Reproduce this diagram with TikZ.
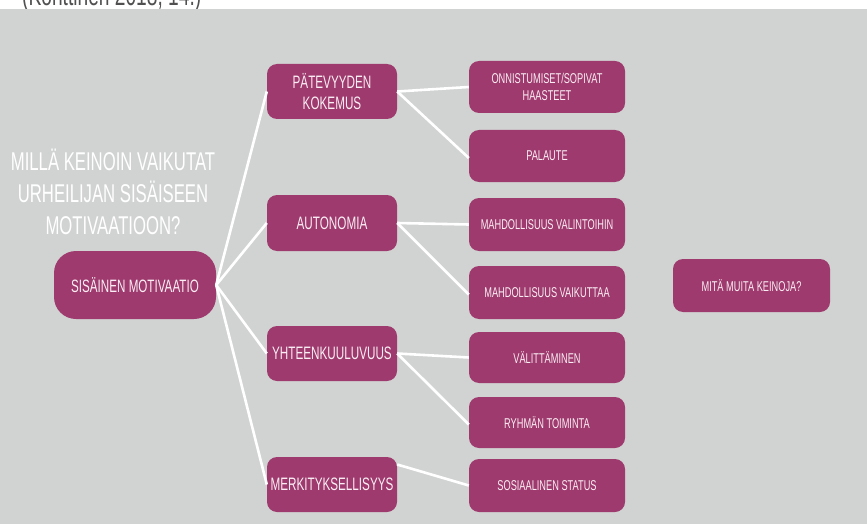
\documentclass[tikz,border=0pt]{standalone}
\usepackage{fontspec}
\setmainfont[FakeStretch=0.65]{Liberation Sans}
\definecolor{bg}{RGB}{209,211,210}
\definecolor{plum}{RGB}{158,58,110}
\definecolor{boxtext}{RGB}{250,238,244}
\definecolor{srcgray}{RGB}{80,80,80}
\begin{document}
\begin{tikzpicture}[x=1pt,y=-1pt,
  box/.style={fill=plum, rounded corners=10pt, inner sep=0pt, align=center, text=boxtext},
  main/.style={box, minimum width=130pt, minimum height=55pt, font=\fontsize{18}{21}\selectfont},
  leaf/.style={box, minimum width=156pt, minimum height=52pt, font=\fontsize{14.2}{17}\selectfont},
  link/.style={draw=white, line width=2.6pt}]

% page and background
\useasboundingbox (0,0) rectangle (867,524);
\fill[white] (0,0) rectangle (867,9);
\fill[bg] (0,9) rectangle (867,524);

% source line at the top edge
\begin{scope}
  \clip (0,0) rectangle (867,9);
  \node[anchor=base west, inner sep=0pt, text=srcgray, font=\fontsize{29.5}{30}\selectfont] (src) at (22,6) {(Konttinen 2018, 14.)};
\end{scope}

% question
\node[align=center, text=white, inner sep=0pt, font=\fontsize{25.7}{32}\selectfont] (q) at (113,191.5)
  {MILLÄ KEINOIN VAIKUTAT\\URHEILIJAN SISÄISEEN\\MOTIVAATIOON?};

% root
\node[box, rounded corners=22pt, minimum width=162pt, minimum height=68pt,
      font=\fontsize{17.9}{21}\selectfont] (root) at (135,285) {SISÄINEN MOTIVAATIO};

% needs
\node[main] (pat) at (332,91.5)  {PÄTEVYYDEN\\KOKEMUS};
\node[main, minimum height=56pt] (aut) at (332,223) {AUTONOMIA};
\node[main] (yht) at (332,353.5) {YHTEENKUULUVUUS};
\node[main] (mer) at (332,484.5) {MERKITYKSELLISYYS};

% means
\node[leaf] (onn) at (547,87)    {ONNISTUMISET/SOPIVAT\\HAASTEET};
\node[leaf] (pal) at (547,156)   {PALAUTE};
\node[leaf, minimum height=53pt] (val) at (547,224.5) {MAHDOLLISUUS VALINTOIHIN};
\node[leaf, minimum height=53pt] (vai) at (547,292.5) {MAHDOLLISUUS VAIKUTTAA};
\node[leaf, minimum height=51pt] (vel) at (547,357.5) {VÄLITTÄMINEN};
\node[leaf, minimum height=51pt] (ryh) at (547,422.5) {RYHMÄN TOIMINTA};
\node[leaf, minimum height=53pt] (sos) at (547,485.5) {SOSIAALINEN STATUS};

\node[leaf, minimum width=157pt, minimum height=53pt] (muu) at (751.5,285.5) {MITÄ MUITA KEINOJA?};

% connectors
\draw[link] (root.east) -- (pat.west);
\draw[link] (root.east) -- (aut.west);
\draw[link] (root.east) -- (yht.west);
\draw[link] (root.east) -- (mer.west);

\draw[link] (pat.east) -- (onn.west);
\draw[link] (pat.east) -- ([yshift=-2pt]pal.west);
\draw[link] (aut.east) -- (val.west);
\draw[link] (aut.east) -- ([yshift=-2pt]vai.west);
\draw[link] (yht.east) -- (vel.west);
\draw[link] (yht.east) -- ([yshift=-2pt]ryh.west);
\draw[link] ([yshift=20pt]mer.east) -- (sos.west);
\end{tikzpicture}
\end{document}
